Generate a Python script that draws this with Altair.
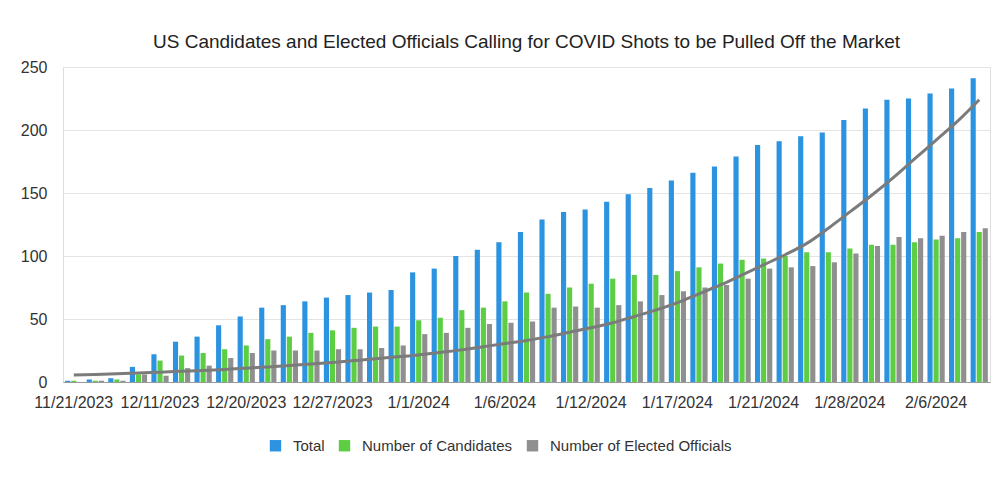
import altair as alt
import pandas as pd

dates = [
    "11/21/2023", "11/28/2023", "12/4/2023", "12/8/2023", "12/11/2023", "12/13/2023",
    "12/15/2023", "12/18/2023", "12/20/2023", "12/21/2023", "12/22/2023", "12/26/2023",
    "12/27/2023", "12/28/2023", "12/29/2023", "12/30/2023", "1/1/2024", "1/2/2024",
    "1/3/2024", "1/4/2024", "1/6/2024", "1/8/2024", "1/9/2024", "1/10/2024",
    "1/12/2024", "1/13/2024", "1/15/2024", "1/16/2024", "1/17/2024", "1/18/2024",
    "1/19/2024", "1/20/2024", "1/21/2024", "1/23/2024", "1/25/2024", "1/26/2024",
    "1/28/2024", "1/30/2024", "2/1/2024", "2/3/2024", "2/6/2024", "2/8/2024", "2/10/2024",
]
total = [1, 2, 3, 12, 22, 32, 36, 45, 52, 59, 61, 64, 67, 69, 71, 73, 87, 90, 100, 105,
         111, 119, 129, 135, 137, 143, 149, 154, 160, 166, 171, 179, 188, 191, 195, 198,
         208, 217, 224, 225, 229, 233, 241]
candidates = [1, 1, 2, 6, 17, 21, 23, 26, 29, 34, 36, 39, 41, 43, 44, 44, 49, 51, 57, 59,
              64, 71, 70, 75, 78, 82, 85, 85, 88, 91, 94, 97, 98, 100, 103, 103,
              106, 109, 109, 111, 113, 114, 119]
elected = [0, 1, 1, 6, 5, 11, 13, 19, 23, 25, 25, 25, 26, 26, 27, 29, 38, 39, 43, 46,
           47, 48, 59, 60, 59, 61, 64, 69, 72, 75, 77, 82, 90, 91, 92, 95,
           102, 108, 115, 114, 116, 119, 122]
trend = [5.5, 6, 6.6, 7.2, 7.8, 8.5, 9.2, 10, 11, 12, 13, 14.2, 15.5, 17, 18.5, 20, 21.5,
         23.5, 25.5, 28, 30.5, 33, 36, 39.5, 43, 47, 52, 57, 63, 70, 77, 85, 93, 101, 110,
         122, 135, 148, 162, 177, 192, 207, 224]

series_names = ["Total", "Number of Candidates", "Number of Elected Officials"]
series_colors = ["#2b93df", "#5dcd43", "#8f8f8f"]
label_dates = dates[0:41:4]
y_ticks = [0, 50, 100, 150, 200, 250]

rows = []
for d, t, c, e in zip(dates, total, candidates, elected):
    rows.append({"date": d, "series": series_names[0], "value": t})
    rows.append({"date": d, "series": series_names[1], "value": c})
    rows.append({"date": d, "series": series_names[2], "value": e})
bars_df = pd.DataFrame(rows)
trend_df = pd.DataFrame({"date": dates, "trend": trend})

FONT = "Liberation Sans"

x_enc = alt.X(
    "date:N", sort=dates, title=None,
    scale=alt.Scale(paddingInner=0.2, paddingOuter=0.1),
    axis=alt.Axis(values=label_dates, labelAngle=0, ticks=False, labelPadding=12,
                  labelFontSize=16, labelColor="#333", domainColor="#9a9a9a",
                  labelOverlap=False, labelFont=FONT),
)
y_scale = alt.Scale(domain=[0, 250])

bars = alt.Chart(bars_df).mark_bar().encode(
    x=x_enc,
    xOffset=alt.XOffset("series:N", sort=series_names, scale=alt.Scale(paddingInner=0.15)),
    y=alt.Y("value:Q", scale=y_scale, title=None,
            axis=alt.Axis(values=y_ticks, ticks=False, domain=False, labelPadding=16,
                          labelFontSize=16, labelColor="#333", gridColor="#e4e4e4",
                          labelFont=FONT)),
    color=alt.Color("series:N", sort=series_names,
                    scale=alt.Scale(domain=series_names, range=series_colors),
                    legend=alt.Legend(orient="none", legendX=205, legendY=371,
                                      direction="horizontal", title=None,
                                      symbolType="square", symbolSize=130,
                                      symbolStrokeWidth=0, labelLimit=0,
                                      labelFontSize=15, labelFont=FONT, labelColor="#333",
                                      columnPadding=12, labelOffset=10)),
)

line = alt.Chart(trend_df).mark_line(color="#7b7b7b", strokeWidth=3, interpolate="monotone").encode(
    x=alt.X("date:N", sort=dates),
    y=alt.Y("trend:Q", scale=y_scale),
)

chart = alt.layer(bars, line).properties(
    width=927, height=315,
    title=alt.TitleParams(
        "US Candidates and Elected Officials Calling for COVID Shots to be Pulled Off the Market",
        fontSize=19, font=FONT, fontWeight="normal", color="#222", offset=7, anchor="middle"),
    padding={"left": 12, "top": 25, "right": 2, "bottom": 5},
).configure_view(stroke=None).configure(background="white")

chart.save("out.html", embed_options={"renderer": "svg", "actions": False})
